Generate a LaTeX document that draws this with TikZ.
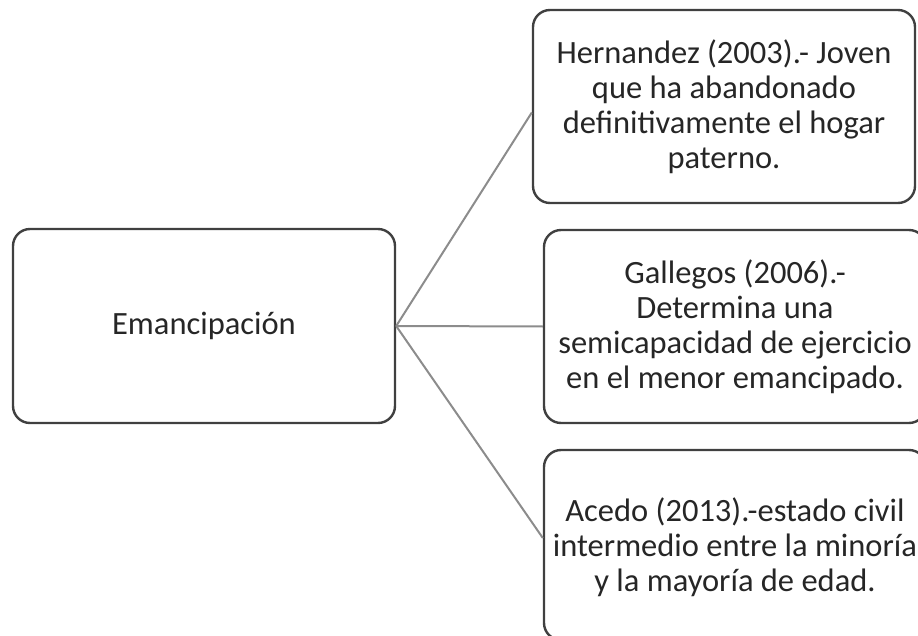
\documentclass[tikz,border=0pt]{standalone}
\usepackage{fontspec}
\setmainfont{Carlito}
\definecolor{boxline}{HTML}{404040}
\definecolor{conn}{HTML}{8C8C8C}
\definecolor{txt}{HTML}{262626}
\tikzset{
  card/.style={draw=boxline, line width=2.4pt, rounded corners=17pt, fill=white,
    align=center, text=txt, inner sep=0pt,
    font=\fontsize{32.5}{35}\selectfont},
  link/.style={draw=conn, line width=2pt}
}
\begin{document}
\begin{tikzpicture}[x=1pt,y=-1pt]
\useasboundingbox (0,0) rectangle (918,636);
\clip (0,0) rectangle (918,636);
\node[card, minimum width=382pt, minimum height=194pt] (root) at (204,326) {Emancipación};
\node[card, minimum width=382pt, minimum height=193pt] (top) at (724,106.5) {Hernandez (2003).- Joven\\que ha abandonado\\definitivamente el hogar\\paterno.};
\node[card, minimum width=382pt, minimum height=193pt] (mid) at (735,326.5) {Gallegos (2006).-\\Determina una\\semicapacidad de ejercicio\\en el menor emancipado.};
\node[card, minimum width=382pt, minimum height=190pt, text depth=0pt] (bot) at (735,545) {Acedo (2013).-estado civil\\intermedio entre la minoría\\y la mayoría de edad.};
\path[link] (root.east) -- ([yshift=-6pt]top.west);
\path[link] (root.east) -- (mid.west);
\path[link] (root.east) -- ([yshift=7pt]bot.west);
\end{tikzpicture}
\end{document}
